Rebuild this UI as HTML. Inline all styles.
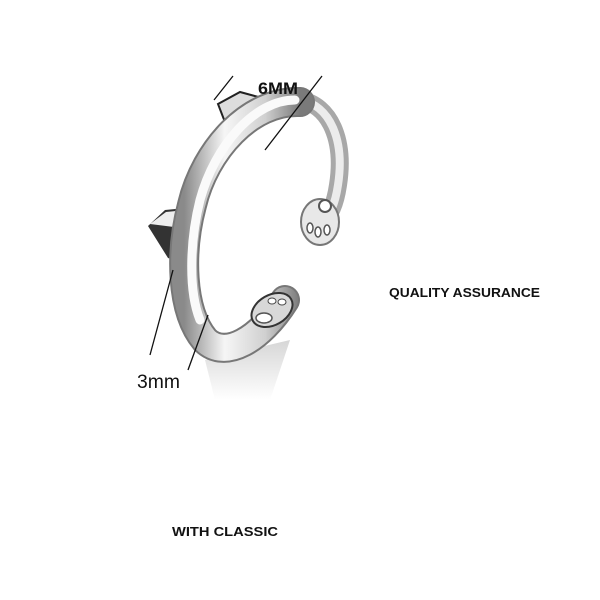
<!DOCTYPE html>
<html><head><style>
html,body{margin:0;padding:0;background:#fff;width:600px;height:600px;overflow:hidden}
svg{display:block}
</style></head><body>
<svg width="600" height="600" viewBox="0 0 600 600" xmlns="http://www.w3.org/2000/svg">
<defs>
<linearGradient id="g1" x1="0" y1="0" x2="1" y2="0">
<stop offset="0" stop-color="#8a8a8a"/><stop offset="0.35" stop-color="#f6f6f6"/><stop offset="0.7" stop-color="#d0d0d0"/><stop offset="1" stop-color="#7a7a7a"/>
</linearGradient>
<linearGradient id="sh" x1="0" y1="0" x2="0" y2="1">
<stop offset="0" stop-color="#bbb"/><stop offset="1" stop-color="#fff"/>
</linearGradient>
</defs>
<path d="M205 360 L290 340 L270 400 L215 400 Z" fill="url(#sh)" opacity="0.6"/>
<path d="M300 100 C330 105 345 140 338 185 C335 205 330 215 322 222" fill="none" stroke="#a8a8a8" stroke-width="18" stroke-linecap="round"/>
<path d="M300 100 C330 105 345 140 338 185 C335 205 330 215 322 222" fill="none" stroke="#ececec" stroke-width="8" stroke-linecap="round"/>
<ellipse cx="320" cy="222" rx="19" ry="23" fill="#e8e8e8" stroke="#777" stroke-width="2"/>
<ellipse cx="325" cy="206" rx="6" ry="6" fill="#fff" stroke="#555" stroke-width="2"/>
<ellipse cx="310" cy="228" rx="3" ry="5" fill="#fff" stroke="#555" stroke-width="1.5"/>
<ellipse cx="318" cy="232" rx="3" ry="5" fill="#fff" stroke="#555" stroke-width="1.5"/>
<ellipse cx="327" cy="230" rx="3" ry="5" fill="#fff" stroke="#555" stroke-width="1.5"/>
<path d="M218 104 L240 92 L262 98 L228 130 Z" fill="#ddd" stroke="#222" stroke-width="2"/>
<path d="M148 226 L165 210 L186 208 L180 262 L168 258 Z" fill="#333"/>
<path d="M150 224 L166 212 L186 210 L182 228 Z" fill="#eee"/>
<path d="M300 102 C250 100 205 150 192 205 C180 250 180 310 205 340 C225 360 260 340 285 300" fill="none" stroke="#777" stroke-width="30" stroke-linecap="round"/>
<path d="M300 102 C250 100 205 150 192 205 C180 250 180 310 205 340 C225 360 260 340 285 300" fill="none" stroke="url(#g1)" stroke-width="26" stroke-linecap="round"/>
<path d="M295 100 C255 100 215 145 200 200 C190 240 188 290 200 320" fill="none" stroke="#fafafa" stroke-width="9" stroke-linecap="round"/>
<ellipse cx="272" cy="310" rx="22" ry="15" transform="rotate(-30 272 310)" fill="#d8d8d8" stroke="#333" stroke-width="2"/>
<ellipse cx="264" cy="318" rx="8" ry="5" fill="#fff" stroke="#555" stroke-width="1.5"/>
<ellipse cx="272" cy="301" rx="4" ry="3" fill="#fff" stroke="#444"/>
<ellipse cx="282" cy="302" rx="4" ry="3" fill="#fff" stroke="#444"/>
<line x1="214" y1="100" x2="233" y2="76" stroke="#111" stroke-width="1.3"/>
<line x1="265" y1="150" x2="322" y2="76" stroke="#111" stroke-width="1.3"/>
<line x1="173" y1="270" x2="150" y2="355" stroke="#111" stroke-width="1.3"/>
<line x1="208" y1="315" x2="188" y2="370" stroke="#111" stroke-width="1.3"/>
<text x="258" y="94" font-family="Liberation Sans, sans-serif" font-weight="bold" font-size="17" fill="#111" textLength="40" lengthAdjust="spacingAndGlyphs">6MM</text>
<text x="137" y="388" font-family="Liberation Sans, sans-serif" font-size="19" fill="#111" textLength="43" lengthAdjust="spacingAndGlyphs">3mm</text>
<text x="389" y="297" font-family="Liberation Sans, sans-serif" font-weight="bold" font-size="13" fill="#111" textLength="151" lengthAdjust="spacingAndGlyphs">QUALITY ASSURANCE</text>
<text x="172" y="536" font-family="Liberation Sans, sans-serif" font-weight="bold" font-size="13" fill="#111" textLength="106" lengthAdjust="spacingAndGlyphs">WITH CLASSIC</text>
</svg>
</body></html>
